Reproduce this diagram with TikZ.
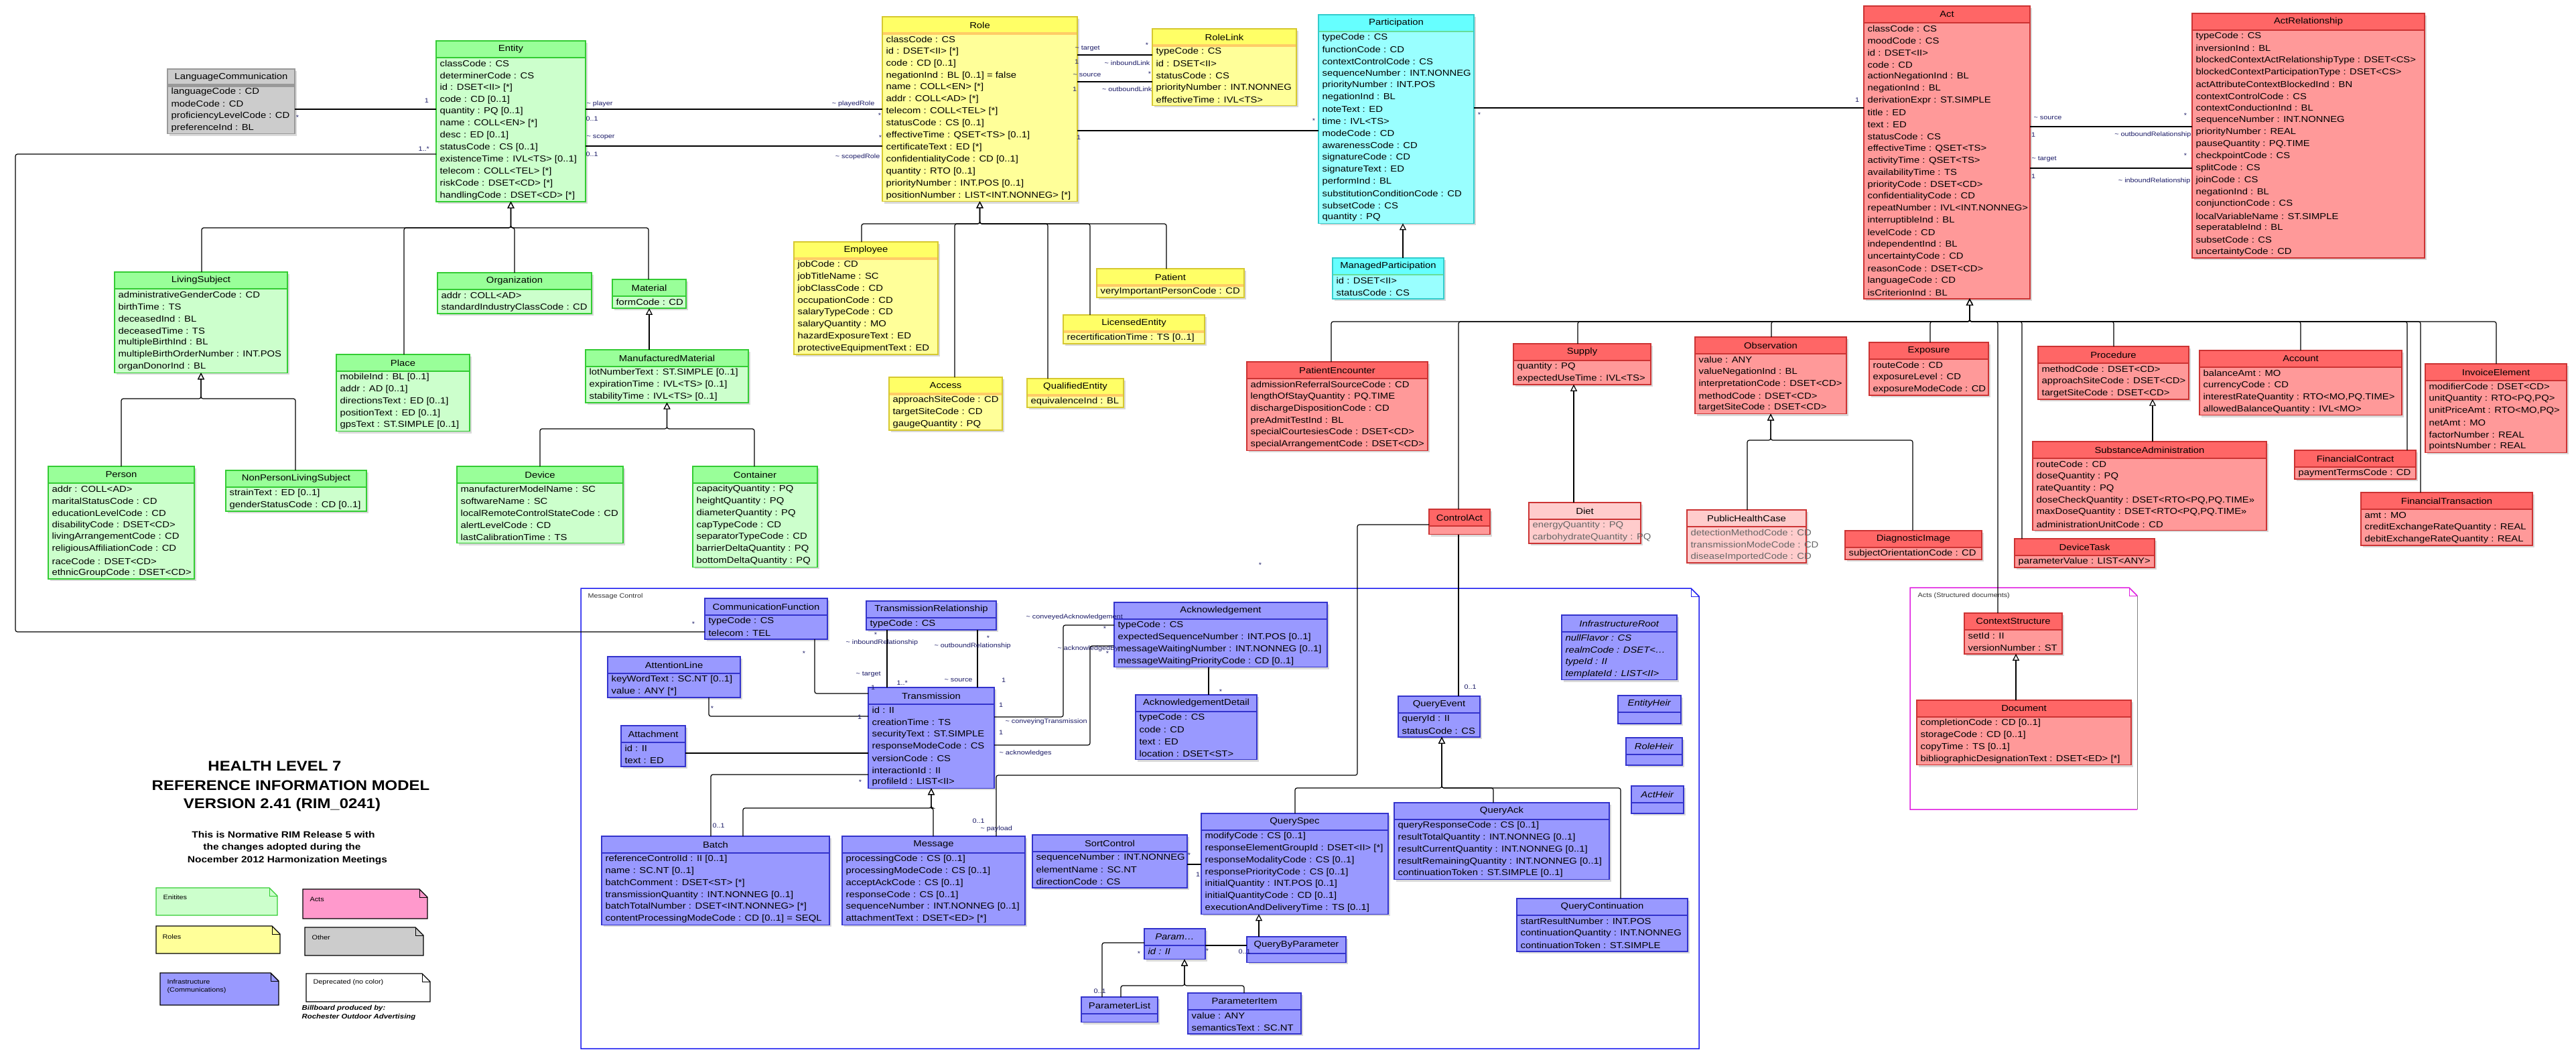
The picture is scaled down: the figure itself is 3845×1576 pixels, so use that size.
\documentclass[tikz,border=0pt]{standalone}
\usepackage{fontspec}
\setmainfont{Liberation Sans}[FakeStretch=1.14]
\usepackage{tikz}
\usetikzlibrary{arrows.meta}

\definecolor{entT}{HTML}{99FF99}
\definecolor{entC}{HTML}{CCFFCC}
\definecolor{entB}{HTML}{33CC33}
\definecolor{rolT}{HTML}{FFFF66}
\definecolor{rolC}{HTML}{FFFF99}
\definecolor{rolB}{HTML}{D6C830}
\definecolor{rolS}{HTML}{FFCC66}
\definecolor{parT}{HTML}{66FFFF}
\definecolor{parC}{HTML}{99FFFF}
\definecolor{parB}{HTML}{33CCCC}
\definecolor{parS}{HTML}{66DD99}
\definecolor{actT}{HTML}{FF6666}
\definecolor{actC}{HTML}{FF9999}
\definecolor{actB}{HTML}{CC3333}
\definecolor{infT}{HTML}{9999FF}
\definecolor{infC}{HTML}{9999FF}
\definecolor{infB}{HTML}{3333CC}
\definecolor{autT}{HTML}{CCCCCC}
\definecolor{autC}{HTML}{CCCCCC}
\definecolor{autB}{HTML}{999999}
\definecolor{depT}{HTML}{FFCCCC}
\definecolor{depC}{HTML}{FFCCCC}
\definecolor{depB}{HTML}{CC3333}
\definecolor{depX}{HTML}{666666}
\colorlet{entX}{black}
\colorlet{rolX}{black}
\colorlet{parX}{black}
\colorlet{actX}{black}
\colorlet{infX}{black}
\colorlet{autX}{black}
\definecolor{etiq}{HTML}{1A1A66}
\definecolor{mcbleu}{HTML}{2020F0}
\definecolor{docrose}{HTML}{E020E0}
\definecolor{legAct}{HTML}{FF99CC}
\definecolor{legRol}{HTML}{FFFF99}

% classe UML : nom, x, y, largeur, lignes, categorie, titre, attributs
\newcommand{\classe}[8]{%
  \node[cadre, minimum width=#4pt, minimum height={25pt+#5*17.9pt}] (#1) at (#2,#3) {};
  \fill[ombre] ([shift={(3pt,-3pt)}]#1.north west) rectangle ([shift={(3pt,-3pt)}]#1.south east);
  \fill[#6C] (#1.north west) rectangle (#1.south east);
  \fill[#6T] (#1.north west) rectangle ([yshift=-25pt]#1.north east);
  \draw[sep #6] ([yshift=-25pt]#1.north west) -- ([yshift=-25pt]#1.north east);
  \draw[#6B, bord] (#1.north west) rectangle (#1.south east);
  \node[titre] (#1-t) at ([yshift=-12.5pt]#1.north) {#7};
  \foreach \a [count=\i] in {#8}
    \node[attribut, text=#6X] (#1-\i) at ([shift={(5pt,{-25pt-(\i-0.5)*17.9pt})}]#1.north west) {\a};
}

\begin{document}
\begin{tikzpicture}[x=1pt, y=-1pt, line width=1.2pt,
  cadre/.style={rectangle, inner sep=0pt, outer sep=0pt, anchor=north west},
  ombre/.style={black!15},
  bord/.style={line width=1.6pt},
  titre/.style={font=\fontsize{13}{15}\selectfont, inner sep=0pt},
  attribut/.style={font=\fontsize{13}{15}\selectfont, inner sep=0pt, anchor=west},
  sep ent/.style={draw=entB, line width=1.4pt},
  sep rol/.style={draw=rolS, line width=4pt},
  sep par/.style={draw=parS, line width=2pt},
  sep act/.style={draw=actB, line width=1.4pt},
  sep inf/.style={draw=infB, line width=1.4pt},
  sep aut/.style={draw=autB, line width=5pt},
  sep dep/.style={draw=depB, line width=1.4pt},
  assoc/.style={line width=1.2pt, rounded corners=3pt},
  herit/.style={line width=1.2pt, rounded corners=3pt, -{Triangle[open, length=10pt, width=10pt, fill=white]}},
  lab/.style={font=\fontsize{9.5}{11}\selectfont, text=etiq, inner sep=0pt},
  paquet/.style={line width=1.5pt},
  note/.style={line width=1.4pt},
  texnote/.style={font=\fontsize{9.5}{11}\selectfont, inner sep=0pt, anchor=west},
  grandtitre/.style={font=\bfseries\fontsize{21}{24}\selectfont, inner sep=0pt},
  soustitre/.style={font=\bfseries\fontsize{13.6}{16}\selectfont, inner sep=0pt},
  credit/.style={font=\bfseries\itshape\fontsize{10}{12}\selectfont, inner sep=0pt, anchor=west}]
\useasboundingbox (0,0) rectangle (3845,1576);

% Paquetages
\draw[paquet, mcbleu] (867,878) -- (2524,878) -- (2536,890) -- (2536,1565) -- (867,1565) -- cycle;
\draw[paquet, mcbleu, line width=1pt] (2524,878) -- (2524,890) -- (2536,890);
\node[texnote, text=black!80] (mc) at (877,890) {Message Control};
\draw[paquet, docrose] (3190,1208) -- (2851,1208) -- (2851,877) -- (3178,877) -- (3190,889);
\draw[paquet, black!50, line width=0.8pt] (3190,889) -- (3190,1208);
\draw[paquet, docrose, line width=1pt] (3178,877) -- (3178,889) -- (3190,889);
\node[texnote, text=black!80] (asd) at (2862,889) {Acts (Structured documents)};

% Entites
\classe{LanguageCommunication}{250}{103}{190}{4}{aut}{LanguageCommunication}{languageCode : CD, modeCode : CD, proficiencyLevelCode : CD, preferenceInd : BL}
\classe{Entity}{651}{61}{223}{12}{ent}{Entity}{classCode : CS, determinerCode : CS, id : DSET<II> [*], code : CD [0..1], quantity : PQ [0..1], name : COLL<EN> [*], desc : ED [0..1], statusCode : CS [0..1], existenceTime : IVL<TS> [0..1], telecom : COLL<TEL> [*], riskCode : DSET<CD> [*], handlingCode : DSET<CD> [*]}
\classe{LivingSubject}{171}{406}{258}{7}{ent}{LivingSubject}{administrativeGenderCode : CD, birthTime : TS, deceasedInd : BL, deceasedTime : TS, multipleBirthInd : BL, multipleBirthOrderNumber : INT.POS, organDonorInd : BL}
\classe{Organization}{653}{407}{230}{2}{ent}{Organization}{addr : COLL<AD>, standardIndustryClassCode : CD}
\classe{Material}{914}{417}{110}{1}{ent}{Material}{formCode : CD}
\classe{Place}{502}{529}{199}{5}{ent}{Place}{mobileInd : BL [0..1], addr : AD [0..1], directionsText : ED [0..1], positionText : ED [0..1], gpsText : ST.SIMPLE [0..1]}
\classe{ManufacturedMaterial}{874}{522}{243}{3}{ent}{ManufacturedMaterial}{lotNumberText : ST.SIMPLE [0..1], expirationTime : IVL<TS> [0..1], stabilityTime : IVL<TS> [0..1]}
\classe{Person}{72}{696}{218}{8}{ent}{Person}{addr : COLL<AD>, maritalStatusCode : CD, educationLevelCode : CD, disabilityCode : DSET<CD>, livingArrangementCode : CD, religiousAffiliationCode : CD, raceCode : DSET<CD>, ethnicGroupCode : DSET<CD>}
\classe{NonPersonLivingSubject}{337}{702}{210}{2}{ent}{NonPersonLivingSubject}{strainText : ED [0..1], genderStatusCode : CD [0..1]}
\classe{Device}{682}{696}{248}{5}{ent}{Device}{manufacturerModelName : SC, softwareName : SC, localRemoteControlStateCode : CD, alertLevelCode : CD, lastCalibrationTime : TS}
\classe{Container}{1034}{696}{186}{7}{ent}{Container}{capacityQuantity : PQ, heightQuantity : PQ, diameterQuantity : PQ, capTypeCode : CD, separatorTypeCode : CD, barrierDeltaQuantity : PQ, bottomDeltaQuantity : PQ}

% Roles
\classe{Role}{1317}{25}{291}{14}{rol}{Role}{classCode : CS, id : DSET<II> [*], code : CD [0..1], negationInd : BL [0..1] = false, name : COLL<EN> [*], addr : COLL<AD> [*], telecom : COLL<TEL> [*], statusCode : CS [0..1], effectiveTime : QSET<TS> [0..1], certificateText : ED [*], confidentialityCode : CD [0..1], quantity : RTO [0..1], priorityNumber : INT.POS [0..1], positionNumber : LIST<INT.NONNEG> [*]}
\classe{RoleLink}{1720}{43}{215}{5}{rol}{RoleLink}{typeCode : CS, id : DSET<II>, statusCode : CS, priorityNumber : INT.NONNEG, effectiveTime : IVL<TS>}
\classe{Employee}{1185}{361}{215}{8}{rol}{Employee}{jobCode : CD, jobTitleName : SC, jobClassCode : CD, occupationCode : CD, salaryTypeCode : CD, salaryQuantity : MO, hazardExposureText : ED, protectiveEquipmentText : ED}
\classe{Patient}{1637}{401}{220}{1}{rol}{Patient}{veryImportantPersonCode : CD}
\classe{LicensedEntity}{1587}{470}{211}{1}{rol}{LicensedEntity}{recertificationTime : TS [0..1]}
\classe{Access}{1327}{563}{169}{3}{rol}{Access}{approachSiteCode : CD, targetSiteCode : CD, gaugeQuantity : PQ}
\classe{QualifiedEntity}{1533}{565}{144}{1}{rol}{QualifiedEntity}{equivalenceInd : BL}

% Participations
\classe{Participation}{1968}{22}{232}{16}{par}{Participation}{typeCode : CS, functionCode : CD, contextControlCode : CS, sequenceNumber : INT.NONNEG, priorityNumber : INT.POS, negationInd : BL, noteText : ED, time : IVL<TS>, modeCode : CD, awarenessCode : CD, signatureCode : CD, signatureText : ED, performInd : BL, substitutionConditionCode : CD, subsetCode : CS, quantity : PQ}
\classe{ManagedParticipation}{1989}{385}{166}{2}{par}{ManagedParticipation}{id : DSET<II>, statusCode : CS}

% Actes
\classe{Act}{2782}{9}{248}{23}{act}{Act}{classCode : CS, moodCode : CS, id : DSET<II>, code : CD, actionNegationInd : BL, negationInd : BL, derivationExpr : ST.SIMPLE, title : ED, text : ED, statusCode : CS, effectiveTime : QSET<TS>, activityTime : QSET<TS>, availabilityTime : TS, priorityCode : DSET<CD>, confidentialityCode : CD, repeatNumber : IVL<INT.NONNEG>, interruptibleInd : BL, levelCode : CD, independentInd : BL, uncertaintyCode : CD, reasonCode : DSET<CD>, languageCode : CD, isCriterionInd : BL}
\classe{ActRelationship}{3272}{20}{347}{19}{act}{ActRelationship}{typeCode : CS, inversionInd : BL, blockedContextActRelationshipType : DSET<CS>, blockedContextParticipationType : DSET<CS>, actAttributeContextBlockedInd : BN, contextControlCode : CS, contextConductionInd : BL, sequenceNumber : INT.NONNEG, priorityNumber : REAL, pauseQuantity : PQ.TIME, checkpointCode : CS, splitCode : CS, joinCode : CS, negationInd : BL, conjunctionCode : CS, localVariableName : ST.SIMPLE, seperatableInd : BL, subsetCode : CS, uncertaintyCode : CD}
\classe{PatientEncounter}{1861}{540}{270}{6}{act}{PatientEncounter}{admissionReferralSourceCode : CD, lengthOfStayQuantity : PQ.TIME, dischargeDispositionCode : CD, preAdmitTestInd : BL, specialCourtesiesCode : DSET<CD>, specialArrangementCode : DSET<CD>}
\classe{Supply}{2259}{513}{205}{2}{act}{Supply}{quantity : PQ, expectedUseTime : IVL<TS>}
\classe{Observation}{2530}{503}{226}{5}{act}{Observation}{value : ANY, valueNegationInd : BL, interpretationCode : DSET<CD>, methodCode : DSET<CD>, targetSiteCode : DSET<CD>}
\classe{Exposure}{2790}{511}{178}{3}{act}{Exposure}{routeCode : CD, exposureLevel : CD, exposureModeCode : CD}
\classe{Procedure}{3042}{517}{225}{3}{act}{Procedure}{methodCode : DSET<CD>, approachSiteCode : DSET<CD>, targetSiteCode : DSET<CD>}
\classe{Account}{3283}{523}{302}{4}{act}{Account}{balanceAmt : MO, currencyCode : CD, {interestRateQuantity : RTO<MO,PQ.TIME>}, allowedBalanceQuantity : IVL<MO>}
\classe{InvoiceElement}{3620}{543}{211}{6}{act}{InvoiceElement}{modifierCode : DSET<CD>, {unitQuantity : RTO<PQ,PQ>}, {unitPriceAmt : RTO<MO,PQ>}, netAmt : MO, factorNumber : REAL, pointsNumber : REAL}
\classe{SubstanceAdministration}{3034}{659}{349}{6}{act}{SubstanceAdministration}{routeCode : CD, doseQuantity : PQ, rateQuantity : PQ, {doseCheckQuantity : DSET<RTO<PQ,PQ.TIME>>}, {maxDoseQuantity : DSET<RTO<PQ,PQ.TIME>>}, administrationUnitCode : CD}
\classe{FinancialContract}{3425}{672}{181}{1}{act}{FinancialContract}{paymentTermsCode : CD}
\classe{FinancialTransaction}{3524}{735}{256}{3}{act}{FinancialTransaction}{amt : MO, creditExchangeRateQuantity : REAL, debitExchangeRateQuantity : REAL}
\classe{DeviceTask}{3007}{804}{209}{1}{act}{DeviceTask}{parameterValue : LIST<ANY>}
\classe{ControlAct}{2133}{760}{91}{0.7}{act}{ControlAct}{}
\classe{Diet}{2282}{750}{167}{2}{dep}{Diet}{energyQuantity : PQ, carbohydrateQuantity : PQ}
\classe{PublicHealthCase}{2518}{761}{178}{3}{dep}{PublicHealthCase}{detectionMethodCode : CD, transmissionModeCode : CD, diseaseImportedCode : CD}
\classe{DiagnosticImage}{2754}{792}{204}{1}{act}{DiagnosticImage}{subjectOrientationCode : CD}
\classe{ContextStructure}{2932}{915}{146}{2}{act}{ContextStructure}{setId : II, versionNumber : ST}
\classe{Document}{2861}{1045}{320}{4}{act}{Document}{completionCode : CD [0..1], storageCode : CD [0..1], copyTime : TS [0..1], bibliographicDesignationText : DSET<ED> [*]}

% Infrastructure (Message Control)
\classe{CommunicationFunction}{1052}{893}{183}{2}{inf}{CommunicationFunction}{typeCode : CS, telecom : TEL}
\classe{TransmissionRelationship}{1293}{897}{194}{1}{inf}{TransmissionRelationship}{typeCode : CS}
\classe{Acknowledgement}{1663}{899}{318}{4}{inf}{Acknowledgement}{typeCode : CS, expectedSequenceNumber : INT.POS [0..1], messageWaitingNumber : INT.NONNEG [0..1], messageWaitingPriorityCode : CD [0..1]}
\classe{AcknowledgementDetail}{1695}{1037}{181}{4}{inf}{AcknowledgementDetail}{typeCode : CS, code : CD, text : ED, location : DSET<ST>}
\classe{AttentionLine}{907}{980}{198}{2}{inf}{AttentionLine}{keyWordText : SC.NT [0..1], value : ANY [*]}
\classe{Transmission}{1296}{1026}{188}{7}{inf}{Transmission}{id : II, creationTime : TS, securityText : ST.SIMPLE, responseModeCode : CS, versionCode : CS, interactionId : II, profileId : LIST<II>}
\classe{Attachment}{927}{1083}{96}{2}{inf}{Attachment}{id : II, text : ED}
\classe{Batch}{898}{1248}{340}{6}{inf}{Batch}{referenceControlId : II [0..1], name : SC.NT [0..1], batchComment : DSET<ST> [*], transmissionQuantity : INT.NONNEG [0..1], batchTotalNumber : DSET<INT.NONNEG> [*], contentProcessingModeCode : CD [0..1] = SEQL}
\classe{Message}{1257}{1248}{273}{6}{inf}{Message}{processingCode : CS [0..1], processingModeCode : CS [0..1], acceptAckCode : CS [0..1], responseCode : CS [0..1], sequenceNumber : INT.NONNEG [0..1], attachmentText : DSET<ED> [*]}
\classe{SortControl}{1541}{1246}{231}{3}{inf}{SortControl}{sequenceNumber : INT.NONNEG, elementName : SC.NT, directionCode : CS}
\classe{QuerySpec}{1793}{1214}{279}{7}{inf}{QuerySpec}{modifyCode : CS [0..1], responseElementGroupId : DSET<II> [*], responseModalityCode : CS [0..1], responsePriorityCode : CS [0..1], initialQuantity : INT.POS [0..1], initialQuantityCode : CD [0..1], executionAndDeliveryTime : TS [0..1]}
\classe{QueryEvent}{2087}{1039}{122}{2}{inf}{QueryEvent}{queryId : II, statusCode : CS}
\classe{QueryAck}{2081}{1198}{321}{5}{inf}{QueryAck}{queryResponseCode : CS [0..1], resultTotalQuantity : INT.NONNEG [0..1], resultCurrentQuantity : INT.NONNEG [0..1], resultRemainingQuantity : INT.NONNEG [0..1], continuationToken : ST.SIMPLE [0..1]}
\classe{QueryContinuation}{2264}{1341}{255}{3}{inf}{QueryContinuation}{startResultNumber : INT.POS, continuationQuantity : INT.NONNEG, continuationToken : ST.SIMPLE}
\classe{InfrastructureRoot}{2331}{918}{172}{4}{inf}{\textit{InfrastructureRoot}}{\textit{nullFlavor : CS}, \textit{realmCode : DSET<\textellipsis}, \textit{typeId : II}, \textit{templateId : LIST<II>}}
\classe{EntityHeir}{2415}{1038}{94}{0.95}{inf}{\textit{EntityHeir}}{}
\classe{RoleHeir}{2427}{1101}{84}{0.9}{inf}{\textit{RoleHeir}}{}
\classe{ActHeir}{2435}{1173}{78}{0.9}{inf}{\textit{ActHeir}}{}
\classe{QueryByParameter}{1861}{1398}{148}{0.75}{inf}{QueryByParameter}{}
\classe{Param}{1708}{1386}{91}{1.15}{inf}{\textit{Param\textellipsis}}{\textit{id : II}}
\classe{ParameterList}{1614}{1488}{114}{0.7}{inf}{ParameterList}{}
\classe{ParameterItem}{1773}{1482}{169}{2}{inf}{ParameterItem}{value : ANY, semanticsText : SC.NT}

% Heritages
\foreach \enf/\ex in {LivingSubject/301, Place/603, Organization/768, Material/968}
  \draw[herit] (\enf.north -| \ex,0) -- (\ex,340) -| (Entity.south);
\foreach \enf/\ex in {Person/181, NonPersonLivingSubject/441}
  \draw[herit] (\enf.north -| \ex,0) -- (\ex,595) -| (LivingSubject.south);
\draw[herit] (ManufacturedMaterial.north -| Material.south) -- (Material.south);
\foreach \enf/\ex in {Device/806, Container/1126}
  \draw[herit] (\enf.north -| \ex,0) -- (\ex,640) -| (ManufacturedMaterial.south);
\foreach \enf/\ex in {Employee/1286, Access/1425, QualifiedEntity/1564, LicensedEntity/1627, Patient/1741}
  \draw[herit] (\enf.north -| \ex,0) -- (\ex,334) -| (Role.south);
\draw[herit] (ManagedParticipation.north -| 2094,0) -- (Participation.south -| 2094,0);
\foreach \enf/\ex in {PatientEncounter/1987, ControlAct/2177, Supply/2355, Observation/2644, Exposure/2881, ContextStructure/2982, DeviceTask/3018, Procedure/3155, Account/3434, FinancialContract/3593, FinancialTransaction/3613, InvoiceElement/3726}
  \draw[herit] (\enf.north -| \ex,0) -- (\ex,480) -| (Act.south -| 2940,0);
\draw[herit] (Diet.north -| 2349,0) -- (Supply.south -| 2349,0);
\foreach \enf/\ex in {PublicHealthCase/2608, DiagnosticImage/2855}
  \draw[herit] (\enf.north -| \ex,0) -- (\ex,657) -| (Observation.south);
\draw[herit] (SubstanceAdministration.north -| 3213,0) -- (Procedure.south -| 3213,0);
\draw[herit] (Document.north -| 3009,0) -- (ContextStructure.south -| 3009,0);
\foreach \enf/\ex in {Batch/1109, Message/1393}
  \draw[herit] (\enf.north -| \ex,0) -- (\ex,1206) -| (Transmission.south);
\foreach \enf/\ex in {QuerySpec/1933, QueryAck/2229, QueryContinuation/2419}
  \draw[herit] (\enf.north -| \ex,0) -- (\ex,1176) -| (QueryEvent.south -| 2152,0);
\draw[herit] (QueryByParameter.north -| 1879,0) -- (QuerySpec.south -| 1879,0);
\foreach \enf/\ex in {ParameterList/1673, ParameterItem/1857}
  \draw[herit] (\enf.north -| \ex,0) -- (\ex,1471) -| (Param.south -| 1768,0);

% Associations
\draw[assoc] (LanguageCommunication.east |- 0,163) -- (Entity.west |- 0,163);
\draw[assoc] (Entity.east |- 0,163) -- (Role.west |- 0,163);
\draw[assoc] (Entity.east |- 0,218) -- (Role.west |- 0,218);
\draw[assoc] (Entity.west |- 0,230) -| (23,943) -- (CommunicationFunction.west |- 0,943);
\draw[assoc] (Role.east |- 0,82) -- (RoleLink.west |- 0,82);
\draw[assoc] (Role.east |- 0,122) -- (RoleLink.west |- 0,122);
\draw[assoc] (Role.east |- 0,195) -- (Participation.west |- 0,195);
\draw[assoc] (Participation.east |- 0,161) -- (Act.west |- 0,161);
\draw[assoc] (Act.east |- 0,189) -- (ActRelationship.west |- 0,189);
\draw[assoc] (Act.east |- 0,251) -- (ActRelationship.west |- 0,251);
\draw[assoc] (ControlAct.south -| 2177,0) -- (QueryEvent.north -| 2177,0);
\draw[assoc] (ControlAct.west |- 0,783) -| (2026,1157) -| (Message.north -| 1487,0);
\draw[assoc] (CommunicationFunction.south -| 1216,0) |- (Transmission.west |- 0,1035);
\draw[assoc] (TransmissionRelationship.south -| 1324,0) -- (Transmission.north -| 1324,0);
\draw[assoc] (TransmissionRelationship.south -| 1459,0) -- (Transmission.north -| 1459,0);
\draw[assoc] (Acknowledgement.west |- 0,933) -| (1587,1070) -- (Transmission.east |- 0,1070);
\draw[assoc] (Acknowledgement.west |- 0,964) -| (1627,1112) -- (Transmission.east |- 0,1112);
\draw[assoc] (Acknowledgement.south -| 1804,0) -- (AcknowledgementDetail.north -| 1804,0);
\draw[assoc] (AttentionLine.south -| 1058,0) |- (Transmission.west |- 0,1069);
\draw[assoc] (Attachment.east |- 0,1124) -- (Transmission.west |- 0,1124);
\draw[assoc] (Transmission.west |- 0,1156) -| (Batch.north -| 1061,0);
\draw[assoc] (SortControl.east |- 0,1290) -- (QuerySpec.west |- 0,1290);
\draw[assoc] (Param.east |- 0,1411) -- (QueryByParameter.west |- 0,1411);
\draw[assoc] (Param.west |- 0,1407) -| (ParameterList.north -| 1645,0);

% Roles des associations et multiplicites
\node[lab] (m1) at (637,150) {1};
\node[lab] (m2) at (444,175) {*};
\node[lab, anchor=west] (m3) at (875,155) {\textasciitilde{} player};
\node[lab, anchor=west] (m4) at (874,177) {0..1};
\node[lab, anchor=west] (m5) at (875,205) {\textasciitilde{} scoper};
\node[lab, anchor=west] (m6) at (874,230) {0..1};
\node[lab, anchor=west] (m7) at (624,222) {1..*};
\node[lab, anchor=east] (m8) at (1306,155) {\textasciitilde{} playedRole};
\node[lab] (m9) at (1313,172) {*};
\node[lab] (m10) at (1314,205) {*};
\node[lab, anchor=east] (m11) at (1314,234) {\textasciitilde{} scopedRole};
\node[lab, anchor=west] (m12) at (1604,72) {\textasciitilde{} target};
\node[lab] (m13) at (1607,92) {1};
\node[lab] (m14) at (1712,67) {*};
\node[lab, anchor=east] (m15) at (1717,94) {\textasciitilde{} inboundLink};
\node[lab, anchor=west] (m16) at (1601,112) {\textasciitilde{} source};
\node[lab] (m17) at (1716,110) {*};
\node[lab] (m18) at (1604,133) {1};
\node[lab, anchor=east] (m19) at (1720,133) {\textasciitilde{} outboundLink};
\node[lab] (m20) at (1610,205) {1};
\node[lab] (m21) at (1961,180) {*};
\node[lab] (m22) at (2208,171) {*};
\node[lab] (m23) at (2772,149) {1};
\node[lab, anchor=west] (m24) at (3035,176) {\textasciitilde{} source};
\node[lab] (m25) at (3262,172) {*};
\node[lab] (m26) at (3035,201) {1};
\node[lab, anchor=east] (m27) at (3271,201) {\textasciitilde{} outboundRelationship};
\node[lab, anchor=west] (m28) at (3032,237) {\textasciitilde{} target};
\node[lab] (m29) at (3262,232) {*};
\node[lab] (m30) at (3035,263) {1};
\node[lab, anchor=east] (m31) at (3270,270) {\textasciitilde{} inboundRelationship};
\node[lab] (m32) at (1881,843) {*};
\node[lab] (m33) at (1035,931) {*};
\node[lab] (m34) at (1200,975) {*};
\node[lab] (m35) at (1303,1026) {1};
\node[lab] (m36) at (1307,947) {*};
\node[lab, anchor=west] (m37) at (1262,959) {\textasciitilde{} inboundRelationship};
\node[lab, anchor=west] (m38) at (1277,1006) {\textasciitilde{} target};
\node[lab, anchor=west] (m39) at (1338,1019) {1..*};
\node[lab] (m40) at (1475,952) {*};
\node[lab, anchor=west] (m41) at (1394,964) {\textasciitilde{} outboundRelationship};
\node[lab, anchor=west] (m42) at (1409,1015) {\textasciitilde{} source};
\node[lab] (m43) at (1498,1015) {1};
\node[lab, anchor=west] (m44) at (1531,921) {\textasciitilde{} conveyedAcknowledgement};
\node[lab] (m45) at (1649,938) {*};
\node[lab, anchor=west] (m46) at (1578,968) {\textasciitilde{} acknowledgedBy};
\node[lab] (m47) at (1653,975) {*};
\node[lab] (m48) at (1822,1032) {*};
\node[lab] (m49) at (1063,1057) {*};
\node[lab] (m50) at (1283,1070) {1};
\node[lab] (m51) at (1494,1052) {1};
\node[lab, anchor=west] (m52) at (1500,1077) {\textasciitilde{} conveyingTransmission};
\node[lab] (m53) at (1494,1093) {1};
\node[lab, anchor=west] (m54) at (1491,1124) {\textasciitilde{} acknowledges};
\node[lab] (m55) at (1284,1167) {*};
\node[lab, anchor=west] (m56) at (1063,1232) {0..1};
\node[lab, anchor=west] (m57) at (1451,1225) {0..1};
\node[lab, anchor=west] (m58) at (1463,1237) {\textasciitilde{} payload};
\node[lab] (m59) at (1775,1276) {*};
\node[lab] (m60) at (1788,1305) {1};
\node[lab] (m61) at (1802,1419) {*};
\node[lab, anchor=west] (m62) at (1848,1420) {0..1};
\node[lab] (m63) at (1700,1423) {*};
\node[lab, anchor=west] (m64) at (1632,1479) {0..1};
\node[lab, anchor=west] (m65) at (2185,1025) {0..1};

% Titre
\node[grandtitre] (titre1) at (410,1143) {HEALTH LEVEL 7};
\node[grandtitre] (titre2) at (434,1172) {REFERENCE INFORMATION MODEL};
\node[grandtitre] (titre3) at (421,1201) {VERSION 2.41 (RIM\_0241)};
\node[soustitre] (sous1) at (423,1246) {This is Normative RIM Release 5 with};
\node[soustitre] (sous2) at (421,1265) {the changes adopted during the};
\node[soustitre] (sous3) at (429,1284) {Nocember 2012 Harmonization Meetings};

% Legende
\foreach \x/\y/\w/\h/\f/\d in {233/1325/181/41/entC/entB, 452/1327/186/44/legAct/black, 233/1382/185/41/legRol/black, 455/1384/177/42/autC/black, 239/1452/177/48/infT/black, 457/1453/185/42/white/black} {
  \filldraw[note, fill=\f, draw=\d] (\x,\y) -- ++(\w-12,0) -- ++(12,12) -- ++(0,\h-12) -- ++(-\w,0) -- cycle;
  \draw[note, draw=\d, line width=0.9pt] (\x+\w-12,\y) -- ++(0,12) -- ++(12,0);
}
\node[texnote] (leg1) at (243,1339) {Enitites};
\node[texnote] (leg2) at (462,1342) {Acts};
\node[texnote] (leg3) at (242,1398) {Roles};
\node[texnote] (leg4) at (465,1399) {Other};
\node[texnote] (leg5) at (249,1465) {Infrastructure};
\node[texnote] (leg6) at (249,1478) {(Communications)};
\node[texnote] (leg7) at (467,1466) {Deprecated (no color)};
\node[credit] (credit1) at (450,1505) {Billboard produced by:};
\node[credit] (credit2) at (450,1518) {Rochester Outdoor Advertising};
\end{tikzpicture}
\end{document}
